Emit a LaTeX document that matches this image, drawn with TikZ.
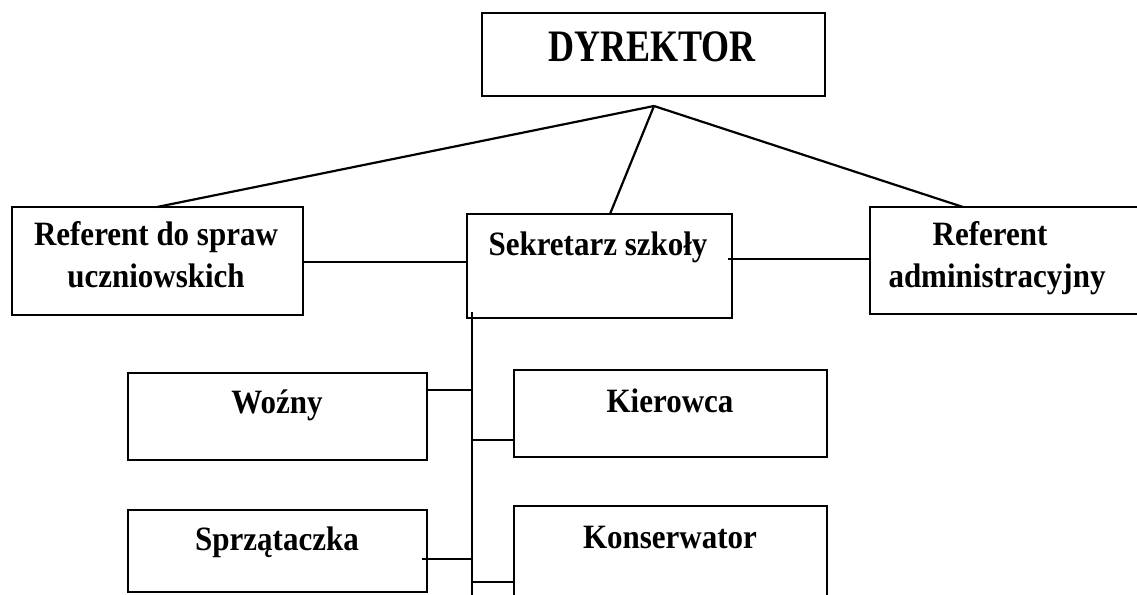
\documentclass[tikz,border=0pt]{standalone}
\usepackage{fontspec}
\setmainfont{Liberation Serif}
\usetikzlibrary{calc}
\newcommand{\talltxt}[1]{\scalebox{1}[1.1]{#1}}
\tikzset{
  box/.style={draw, line width=2.4pt, rectangle, inner sep=0pt, outer sep=0pt},
  txt/.style={anchor=base, inner sep=0pt, font=\fontsize{31}{36}\selectfont\bfseries},
  big/.style={anchor=base, inner sep=0pt, font=\fontsize{36}{40}\selectfont\bfseries},
  conn/.style={line width=2.2pt},
}
\begin{document}
\begin{tikzpicture}[x=1pt,y=-1pt]
\useasboundingbox (0,0) rectangle (1137,594);
\clip (0,0) rectangle (1137,594);
% boxes
\node[box, minimum width=343pt, minimum height=83pt] (dyr) at (653.5,54.5) {};
\node[box, minimum width=291pt, minimum height=108pt] (ref1) at (157.5,261) {};
\node[box, minimum width=265pt, minimum height=104pt] (sek) at (599.5,266) {};
\node[box, minimum width=300pt, minimum height=107pt] (adm) at (1020,260.5) {};
\node[box, minimum width=299pt, minimum height=87pt] (woz) at (277.5,416.5) {};
\node[box, minimum width=313pt, minimum height=87pt] (kie) at (670.5,413.5) {};
\node[box, minimum width=299pt, minimum height=82pt] (spr) at (277.5,551) {};
\node[box, minimum width=313pt, minimum height=110pt] (kon) at (670.5,561) {};
% texts
\node[big] (tdyr) at (652,62) {\scalebox{1}[1.25]{DYREKTOR}};
\node[txt] (tref1a) at (156,245) {\talltxt{Referent do spraw}};
\node[txt] (tref1b) at (156,287) {\talltxt{uczniowskich}};
\node[txt] (tsek) at (598,255) {\talltxt{Sekretarz szkoły}};
\node[txt] (tadma) at (990,245) {\talltxt{Referent}};
\node[txt] (tadmb) at (997,287) {\talltxt{administracyjny}};
\node[txt] (twoz) at (277,413) {\talltxt{Woźny}};
\node[txt] (tkie) at (670,412) {\talltxt{Kierowca}};
\node[txt] (tspr) at (277,550) {\talltxt{Sprzątaczka}};
\node[txt] (tkon) at (670,548) {\talltxt{Konserwator}};
% connectors
\coordinate (apex) at (654,106);
\draw[conn] (apex) -- ($(ref1.north west)+(145,0)$);
\draw[conn] (apex) -- ($(sek.north west)+(143,0)$);
\draw[conn] (apex) -- ($(adm.north west)+(93,0)$);
\draw[conn] (ref1.east |- 0,262) -- (sek.west |- 0,262);
\draw[conn] ($(sek.east |- 0,259)+(-4,0)$) -- (adm.west |- 0,259);
\coordinate (ttop) at (472,312);
\coordinate (tbot) at (472,600);
\draw[conn] (ttop) -- (tbot);
\draw[conn] (woz.east |- 0,390) -- (ttop |- 0,390);
\draw[conn] (ttop |- 0,440) -- (kie.west |- 0,440);
\draw[conn] ($(spr.east |- 0,559)+(-5,0)$) -- (ttop |- 0,559);
\draw[conn] (ttop |- 0,582) -- (kon.west |- 0,582);
\end{tikzpicture}
\end{document}
